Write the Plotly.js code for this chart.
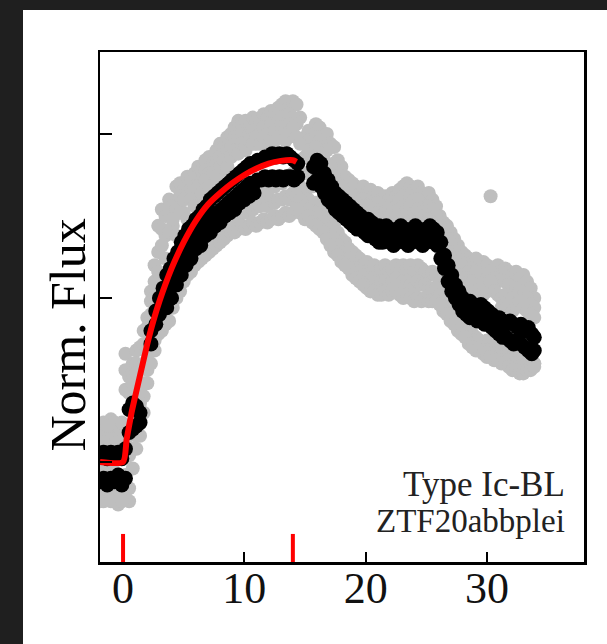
<!DOCTYPE html>
<html>
<head>
<meta charset="utf-8">
<script src="https://cdn.plot.ly/plotly-3.0.1.min.js"></script>
<style>
html,body{margin:0;padding:0;background:#1f1f1f;width:607px;height:644px;overflow:hidden;}
#chart{position:absolute;left:23px;top:10px;width:584px;height:634px;background:#fff;}
</style>
</head>
<body>
<div id="chart"></div>
<script>
// ---- data: days since explosion vs normalized flux ----
// gray (noisy) photometry: one time array, six flux samples per epoch
const grayT = [-1.9,-1.6,-1.3,-1.0,-0.7,-0.4,-0.1,
 0.2,0.5,0.8,1.1,1.4,1.7,2.0,2.3,2.6,2.9,3.2,3.5,3.8,4.1,4.4,4.7,5.0,5.3,5.6,5.9,6.2,6.5,6.8,7.1,7.4,7.7,8.0,8.3,8.6,8.9,9.2,9.5,9.8,10.1,10.4,10.7,11.0,11.3,11.6,11.9,12.2,12.5,12.8,13.1,13.4,13.7,14.0,14.3,14.6,
 15.0,15.3,15.6,15.9,16.2,16.5,16.8,17.1,17.4,17.7,18.0,18.3,18.6,18.9,19.2,19.5,19.8,20.1,20.4,20.7,21.0,21.3,21.6,21.9,22.2,22.5,22.8,23.1,23.4,23.7,24.0,24.3,24.6,24.9,25.2,25.5,25.8,26.1,26.4,26.7,27.0,27.3,27.6,27.9,28.2,28.5,28.8,29.1,29.4,29.7,30.0,30.3,30.6,30.9,31.2,31.5,31.8,32.1,32.4,32.7,33.0,33.3,33.6,33.9];
const grayY1 = [0.10,0.12,0.07,0.13,0.09,0.11,0.08,
 0.33,0.26,0.30,0.34,0.35,0.40,0.44,0.52,0.60,0.72,0.77,0.75,0.80,0.78,0.84,0.85,0.83,0.87,0.86,0.88,0.90,0.89,0.92,0.93,0.91,0.95,0.97,0.96,0.99,1.00,1.02,1.04,1.03,1.04,1.02,1.05,1.04,1.03,1.06,1.05,1.07,1.06,1.08,1.09,1.10,1.08,1.10,1.09,1.05,
 0.99,1.01,1.00,1.03,1.02,0.99,1.00,0.97,0.96,0.92,0.90,0.87,0.86,0.85,0.84,0.83,0.84,0.82,0.83,0.81,0.82,0.80,0.81,0.80,0.82,0.81,0.83,0.84,0.85,0.84,0.83,0.84,0.82,0.81,0.82,0.80,0.78,0.75,0.73,0.72,0.70,0.68,0.66,0.64,0.63,0.62,0.61,0.62,0.60,0.61,0.60,0.81,0.59,0.60,0.58,0.59,0.58,0.57,0.58,0.56,0.57,0.55,0.53,0.50];
const grayY2 = [0.03,-0.02,0.11,0.00,0.05,-0.05,0.12,
 0.22,0.16,0.24,0.27,0.22,0.30,0.36,0.45,0.50,0.58,0.66,0.62,0.70,0.74,0.69,0.76,0.80,0.74,0.80,0.78,0.84,0.82,0.86,0.84,0.88,0.87,0.90,0.92,0.90,0.93,0.95,0.94,0.97,0.96,0.98,0.97,0.99,0.97,0.99,1.00,0.98,1.01,1.00,1.02,1.01,1.03,1.02,0.99,0.97,
 0.93,0.95,0.92,0.96,0.94,0.93,0.91,0.90,0.87,0.85,0.84,0.82,0.80,0.81,0.79,0.78,0.77,0.78,0.76,0.77,0.76,0.75,0.76,0.77,0.76,0.75,0.77,0.78,0.77,0.78,0.76,0.77,0.76,0.75,0.74,0.73,0.72,0.70,0.67,0.64,0.62,0.60,0.58,0.57,0.56,0.55,0.55,0.54,0.53,0.54,0.52,0.55,0.52,0.51,0.50,0.51,0.49,0.50,0.48,0.49,0.47,0.46,0.45,0.44];
const grayY3 = [-0.06,-0.09,-0.11,-0.08,-0.10,-0.13,-0.09,
 -0.11,-0.08,0.04,0.08,0.12,0.15,0.28,0.35,0.42,0.45,0.52,0.50,0.55,0.60,0.58,0.63,0.66,0.62,0.70,0.68,0.72,0.70,0.74,0.72,0.76,0.74,0.77,0.75,0.79,0.77,0.80,0.78,0.81,0.80,0.83,0.81,0.84,0.82,0.85,0.83,0.85,0.84,0.86,0.85,0.87,0.86,0.88,0.86,0.84,
 0.82,0.80,0.78,0.79,0.77,0.76,0.74,0.73,0.72,0.70,0.68,0.67,0.65,0.64,0.63,0.62,0.60,0.61,0.59,0.60,0.58,0.59,0.60,0.58,0.59,0.60,0.58,0.60,0.59,0.60,0.58,0.60,0.59,0.58,0.57,0.58,0.57,0.55,0.53,0.50,0.48,0.46,0.44,0.43,0.41,0.40,0.39,0.38,0.37,0.36,0.37,0.35,0.36,0.34,0.35,0.33,0.34,0.32,0.33,0.31,0.32,0.30,0.31,0.30];
const grayY4 = [-0.12,0.06,-0.04,-0.12,-0.03,0.02,-0.12,
 0.06,0.02,0.10,0.14,0.18,0.24,0.33,0.38,0.37,0.39,0.40,0.42,0.43,0.47,0.50,0.52,0.55,0.57,0.58,0.60,0.61,0.62,0.63,0.64,0.65,0.66,0.67,0.68,0.69,0.70,0.70,0.71,0.72,0.71,0.72,0.73,0.72,0.73,0.74,0.73,0.74,0.75,0.74,0.75,0.76,0.75,0.76,0.77,0.76,
 0.74,0.75,0.73,0.72,0.71,0.70,0.68,0.66,0.64,0.63,0.61,0.60,0.59,0.57,0.56,0.55,0.54,0.53,0.52,0.52,0.51,0.51,0.52,0.51,0.52,0.52,0.51,0.50,0.51,0.50,0.49,0.50,0.49,0.50,0.49,0.49,0.49,0.48,0.46,0.45,0.43,0.42,0.40,0.39,0.38,0.36,0.35,0.34,0.34,0.33,0.32,0.32,0.31,0.31,0.30,0.30,0.29,0.28,0.28,0.27,0.27,0.28,0.28,0.29];
const grayY5 = [0.06,0.08,0.04,0.07,0.12,0.06,0.05,
 0.28,0.21,0.27,0.30,0.29,0.36,0.41,0.49,0.55,0.64,0.71,0.69,0.76,0.72,0.77,0.81,0.76,0.81,0.83,0.84,0.80,0.86,0.89,0.88,0.85,0.91,0.93,0.89,0.95,0.96,0.99,0.99,1.00,0.95,1.00,1.01,0.97,1.00,1.02,0.97,1.03,0.98,1.04,1.05,0.98,1.06,1.05,1.03,0.92,
 0.88,0.98,0.96,0.99,0.98,0.96,0.95,0.86,0.91,0.88,0.87,0.84,0.83,0.78,0.81,0.80,0.80,0.74,0.79,0.79,0.79,0.77,0.78,0.74,0.79,0.78,0.80,0.81,0.74,0.81,0.80,0.80,0.73,0.78,0.78,0.77,0.75,0.72,0.70,0.68,0.66,0.64,0.62,0.60,0.59,0.58,0.52,0.58,0.57,0.51,0.56,0.58,0.56,0.55,0.47,0.55,0.54,0.46,0.53,0.52,0.51,0.50,0.48,0.47];
const grayY6 = [-0.09,-0.12,-0.08,-0.10,-0.12,-0.09,-0.10,
 -0.04,-0.12,-0.02,0.04,0.08,0.20,0.24,0.30,0.34,0.42,0.46,0.46,0.49,0.53,0.54,0.57,0.61,0.60,0.64,0.64,0.66,0.66,0.69,0.68,0.70,0.70,0.72,0.72,0.74,0.74,0.75,0.75,0.76,0.76,0.77,0.77,0.78,0.78,0.79,0.78,0.80,0.79,0.80,0.80,0.81,0.80,0.82,0.81,0.80,
 0.78,0.77,0.84,0.76,0.74,0.73,0.71,0.69,0.68,0.66,0.64,0.63,0.62,0.60,0.59,0.58,0.57,0.56,0.55,0.56,0.55,0.55,0.55,0.54,0.55,0.56,0.54,0.55,0.55,0.54,0.53,0.55,0.54,0.54,0.53,0.53,0.53,0.51,0.50,0.47,0.45,0.44,0.42,0.41,0.40,0.38,0.37,0.36,0.35,0.34,0.34,0.33,0.33,0.32,0.32,0.31,0.31,0.30,0.30,0.29,0.29,0.29,0.29,0.30];

// black (binned) photometry: upper and lower edge of the dense band
const blackT = [-1.9,-1.6,-1.3,-1.0,-0.7,-0.4,-0.1,0.2,
 0.5,0.8,1.1,1.4,2.3,2.7,
 3.0,3.3,3.6,3.9,4.2,4.5,4.8,5.1,5.4,5.7,6.0,6.3,6.6,6.9,7.2,7.5,7.8,8.1,8.4,8.7,9.0,9.3,9.6,9.9,10.2,10.5,10.8,11.1,11.4,11.7,12.0,12.3,12.6,12.9,13.2,13.5,13.8,14.1,14.4,
 15.7,16.0,16.3,16.6,16.9,17.2,17.5,17.8,18.1,18.4,18.7,19.0,19.3,19.6,19.9,20.2,20.5,20.8,21.1,21.4,21.7,22.0,22.3,22.6,22.9,23.2,23.5,23.8,24.1,24.4,24.7,25.0,25.3,25.6,25.9,26.2,26.5,26.8,27.1,27.4,27.7,28.0,28.3,28.6,28.9,29.2,29.5,29.8,30.1,30.4,30.7,31.0,31.3,31.6,31.9,32.2,32.5,32.8,33.1,33.4,33.7,33.9];
const blackY1 = [0.02,0.03,0.01,0.03,0.02,0.03,0.01,0.04,
 0.16,0.18,0.17,0.15,0.40,0.46,
 0.50,0.53,0.57,0.59,0.62,0.64,0.67,0.69,0.71,0.72,0.74,0.75,0.77,0.78,0.80,0.81,0.82,0.83,0.84,0.85,0.86,0.87,0.88,0.89,0.90,0.91,0.91,0.92,0.92,0.93,0.93,0.94,0.93,0.94,0.93,0.94,0.93,0.92,0.91,
 0.90,0.92,0.91,0.88,0.86,0.84,0.82,0.81,0.80,0.79,0.78,0.77,0.76,0.75,0.74,0.74,0.73,0.72,0.72,0.71,0.72,0.71,0.70,0.71,0.72,0.71,0.70,0.71,0.72,0.71,0.70,0.71,0.72,0.71,0.70,0.67,0.63,0.60,0.57,0.54,0.52,0.50,0.49,0.49,0.48,0.47,0.48,0.47,0.46,0.45,0.44,0.44,0.43,0.42,0.43,0.42,0.41,0.42,0.40,0.41,0.39,0.38];
const blackY2 = [-0.06,-0.05,-0.07,-0.05,-0.06,-0.04,-0.07,-0.05,
 0.09,0.10,0.11,0.12,0.36,0.42,
 0.45,0.48,0.51,0.53,0.56,0.58,0.61,0.63,0.65,0.66,0.68,0.69,0.71,0.72,0.74,0.75,0.76,0.77,0.78,0.79,0.80,0.81,0.82,0.83,0.84,0.85,0.85,0.86,0.86,0.87,0.86,0.87,0.86,0.87,0.86,0.87,0.87,0.86,0.87,
 0.85,0.86,0.84,0.82,0.80,0.79,0.77,0.76,0.75,0.74,0.73,0.72,0.71,0.71,0.70,0.69,0.69,0.68,0.67,0.67,0.68,0.67,0.66,0.67,0.68,0.67,0.66,0.67,0.68,0.67,0.66,0.67,0.68,0.67,0.66,0.62,0.59,0.55,0.52,0.50,0.48,0.46,0.45,0.44,0.44,0.43,0.43,0.42,0.42,0.41,0.40,0.39,0.38,0.38,0.37,0.36,0.37,0.36,0.35,0.34,0.33,0.34];
// extra black samples below the fit during the rise
const blackT3 = [3.6,4.0,4.4,4.8,5.2,5.6,6.0,6.4,6.8,7.2,7.6,8.0,8.4,8.8,9.2,9.6,10.0,10.4,10.8];
const blackY3 = [0.47,0.50,0.54,0.57,0.60,0.62,0.65,0.66,0.69,0.70,0.72,0.73,0.75,0.76,0.77,0.79,0.80,0.81,0.82];

// model fit (red curve)
const fitX = [-1.9,0,0.3,0.7,1.0,1.5,2.0,2.5,3,4,5,6,7,8,9,10,11,12,13,14,14.3];
const fitY = [0,0,0.07,0.15,0.2,0.28,0.36,0.43,0.49,0.59,0.67,0.735,0.785,0.82,0.85,0.875,0.895,0.91,0.918,0.92,0.915];

const markTimes = [0, 14];   // explosion and peak epochs (red ticks)
const xTicks = [0, 10, 20, 30];
const yTicks = [0, 0.5, 1.0];
const labelLines = ["Type Ic-BL", "ZTF20abbplei"];

const serif = "'Liberation Serif', 'DejaVu Serif', serif";
const cat = (...a) => [].concat(...a);

const traces = [
  {x: cat(grayT, grayT, grayT, grayT, grayT, grayT),
   y: cat(grayY1, grayY5, grayY2, grayY3, grayY6, grayY4),
   mode: 'markers', type: 'scatter',
   marker: {color: '#bebebe', size: 14, line: {width: 0}}, hoverinfo: 'skip'},
  {x: cat(blackT, blackT, blackT3), y: cat(blackY1, blackY2, blackY3), mode: 'markers', type: 'scatter',
   marker: {color: '#000000', size: 15, line: {width: 0}}, hoverinfo: 'skip'},
  {x: fitX, y: fitY, mode: 'lines', type: 'scatter',
   line: {color: '#ff0000', width: 6, shape: 'spline', smoothing: 0.6}, hoverinfo: 'skip'}
];

const shapes = markTimes.map(t => ({
  type: 'line', xref: 'x', yref: 'paper', x0: t, x1: t, y0: 0, y1: 0.055,
  line: {color: '#ff0000', width: 4}
}));

const layout = {
  width: 584, height: 634,
  margin: {l: 77, r: 23, t: 42, b: 82},
  paper_bgcolor: '#ffffff', plot_bgcolor: '#ffffff',
  showlegend: false,
  xaxis: {range: [-1.9, 38], tickvals: xTicks, ticktext: xTicks.map(String),
    ticks: 'inside', ticklen: 10, tickwidth: 2, tickcolor: '#000',
    ticklabelstandoff: -14,
    showline: true, linecolor: '#000', linewidth: 2.5, mirror: true,
    showgrid: false, zeroline: false,
    tickfont: {family: serif, size: 44, color: '#111'}},
  yaxis: {range: [-0.305, 1.25], tickvals: yTicks, showticklabels: false,
    ticks: 'inside', ticklen: 12, tickwidth: 2, tickcolor: '#000',
    showline: true, linecolor: '#000', linewidth: 2.5, mirror: true,
    showgrid: false, zeroline: false},
  shapes: shapes,
  annotations: [
    {text: labelLines[0], xref: 'paper', yref: 'paper', x: 0.965, y: 0.11,
     xanchor: 'right', yanchor: 'bottom', showarrow: false,
     font: {family: serif, size: 35, color: '#222'}},
    {text: labelLines[1], xref: 'paper', yref: 'paper', x: 0.965, y: 0.041,
     xanchor: 'right', yanchor: 'bottom', showarrow: false,
     font: {family: serif, size: 33, color: '#222'}},
    {text: 'Norm. Flux', xref: 'paper', yref: 'paper', x: -0.067, y: 0.445,
     xanchor: 'center', yanchor: 'middle', textangle: -90, showarrow: false,
     font: {family: serif, size: 50, color: '#000'}}
  ]
};

Plotly.newPlot('chart', traces, layout, {staticPlot: true, displayModeBar: false});
</script>
</body>
</html>
